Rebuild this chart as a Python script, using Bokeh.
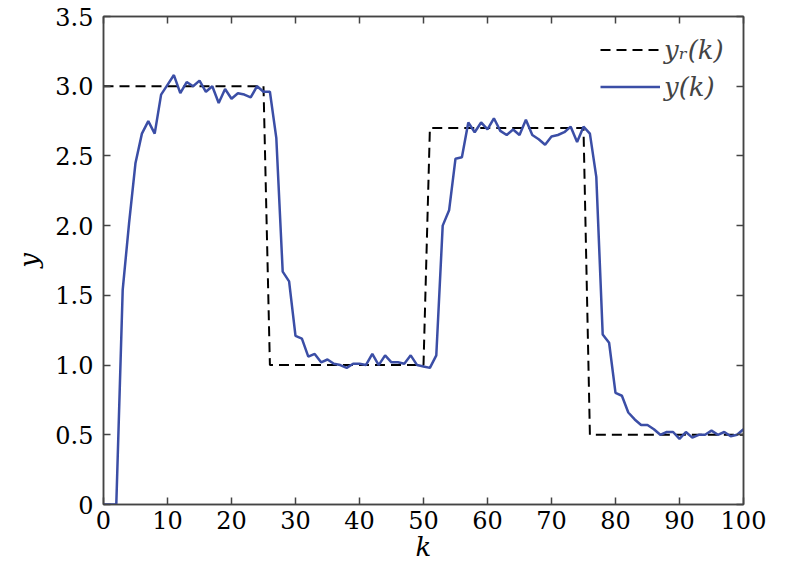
from bokeh.plotting import figure
from bokeh.models import LinearAxis, Range1d, Legend, LegendItem, FixedTicker
from bokeh.embed import file_html
from bokeh.resources import INLINE

k = list(range(0, 101))
y_r = [3.0] * 26 + [1.0] * 25 + [2.7] * 25 + [0.5] * 25
y_out = [0.0, 0.0, 0.0, 1.54, 2.02, 2.45, 2.66, 2.75, 2.66, 2.94,
         3.01, 3.08, 2.95, 3.03, 3.00, 3.04, 2.96, 3.00, 2.88, 2.98,
         2.91, 2.95, 2.94, 2.92, 3.00, 2.96, 2.96, 2.63, 1.67, 1.60,
         1.21, 1.19, 1.06, 1.08, 1.02, 1.04, 1.01, 1.00, 0.98, 1.01,
         1.01, 1.00, 1.08, 1.00, 1.07, 1.02, 1.02, 1.01, 1.07, 1.00,
         0.99, 0.98, 1.07, 2.00, 2.11, 2.48, 2.49, 2.74, 2.67, 2.74,
         2.69, 2.77, 2.68, 2.65, 2.69, 2.65, 2.76, 2.65, 2.62, 2.58,
         2.64, 2.65, 2.67, 2.71, 2.60, 2.71, 2.66, 2.35, 1.22, 1.16,
         0.80, 0.78, 0.66, 0.61, 0.57, 0.57, 0.54, 0.50, 0.52, 0.52,
         0.47, 0.52, 0.48, 0.50, 0.50, 0.53, 0.50, 0.52, 0.49, 0.50,
         0.54]
x_ticks = [0, 10, 20, 30, 40, 50, 60, 70, 80, 90, 100]
y_ticks = [0, 0.5, 1.0, 1.5, 2.0, 2.5, 3.0, 3.5]
y_tick_labels = {0: "0", 0.5: "0.5", 1.0: "1.0", 1.5: "1.5", 2.0: "2.0",
                 2.5: "2.5", 3.0: "3.0", 3.5: "3.5"}
label_ref = "yᵣ(k)"
label_out = "y(k)"

FONT = "DejaVu Serif"
AX = "#444444"

p = figure(width=784, height=570, output_backend="svg", toolbar_location=None,
           x_range=Range1d(0, 100), y_range=Range1d(0, 3.5),
           min_border_left=103, min_border_right=41, min_border_top=16,
           min_border_bottom=66)
p.grid.visible = False
p.outline_line_color = AX
p.outline_line_width = 1.5
p.background_fill_color = "white"

ref_r = p.line(k, y_r, line_color="black", line_width=2, line_dash="10 6")
out_r = p.line(k, y_out, line_color="#3b4ea6", line_width=2.5)

for ax in (p.xaxis[0], p.yaxis[0]):
    ax.major_tick_in = 7
    ax.major_tick_out = 0
    ax.minor_tick_line_color = None
    ax.axis_line_color = AX
    ax.axis_line_width = 1.5
    ax.major_tick_line_color = AX
    ax.major_tick_line_width = 1.5
    ax.major_label_text_font = FONT
    ax.major_label_text_font_size = "24px"
    ax.major_label_text_color = "black"
    ax.axis_label_text_font = FONT
    ax.axis_label_text_font_size = "26px"
    ax.axis_label_text_font_style = "italic"
    ax.axis_label_text_color = "black"

p.xaxis[0].ticker = FixedTicker(ticks=x_ticks)
p.yaxis[0].ticker = FixedTicker(ticks=y_ticks)
p.yaxis[0].major_label_overrides = y_tick_labels
p.xaxis[0].axis_label = "k"
p.yaxis[0].axis_label = "y"
p.xaxis[0].major_label_standoff = 6
p.yaxis[0].major_label_standoff = 10
p.xaxis[0].axis_label_standoff = 0
p.yaxis[0].axis_label_standoff = 8

for side, tk in (("above", x_ticks), ("right", y_ticks)):
    a = LinearAxis(ticker=FixedTicker(ticks=tk))
    a.major_tick_in = 7
    a.major_tick_out = 0
    a.minor_tick_line_color = None
    a.axis_line_color = AX
    a.axis_line_width = 1.5
    a.major_tick_line_color = AX
    a.major_tick_line_width = 1.5
    a.major_label_overrides = {t: "" for t in tk}
    a.major_label_standoff = 0
    p.add_layout(a, side)

legend = Legend(items=[LegendItem(label=label_ref, renderers=[ref_r]),
                       LegendItem(label=label_out, renderers=[out_r])],
                location=(497, 402))
legend.border_line_color = None
legend.background_fill_alpha = 0
legend.label_text_font = FONT
legend.label_text_font_size = "26px"
legend.label_text_font_style = "italic"
legend.glyph_width = 60
legend.glyph_height = 31
legend.label_height = 31
legend.spacing = 6
legend.label_standoff = 4
legend.margin = 0
legend.padding = 4
p.add_layout(legend)

open("out.html", "w").write(file_html(p, INLINE))
